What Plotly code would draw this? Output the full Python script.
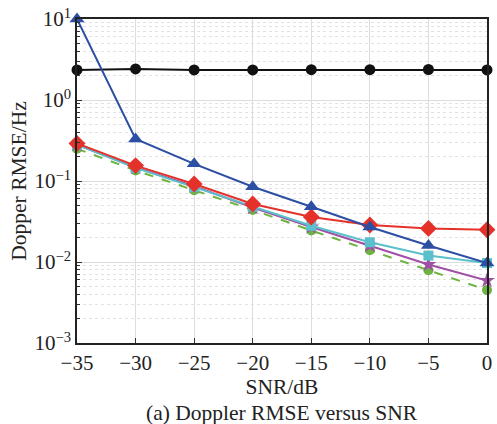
import plotly.graph_objects as go

snr = [-35, -30, -25, -20, -15, -10, -5, 0]
black_vals = [2.35, 2.42, 2.35, 2.35, 2.37, 2.37, 2.38, 2.35]
blue_vals = [10.0, 0.33, 0.163, 0.085, 0.048, 0.027, 0.016, 0.0097]
red_vals = [0.29, 0.155, 0.092, 0.052, 0.036, 0.0286, 0.026, 0.025]
cyan_vals = [0.28, 0.145, 0.084, 0.048, 0.028, 0.0175, 0.012, 0.0097]
purple_vals = [0.28, 0.147, 0.086, 0.047, 0.027, 0.016, 0.0093, 0.0059]
green_vals = [0.25, 0.135, 0.077, 0.044, 0.0245, 0.014, 0.0079, 0.0045]

y_tickvals = [0.001, 0.01, 0.1, 1, 10]
y_ticktext = ["10<sup>−3</sup>", "10<sup>−2</sup>", "10<sup>−1</sup>", "10<sup>0</sup>", "10<sup>1</sup>"]
x_tickvals = [-35, -30, -25, -20, -15, -10, -5, 0]
x_ticktext = ["−35", "−30", "−25", "−20", "−15", "−10", "−5", "0"]

series = [
    (black_vals, "#111111", "circle", "solid", 11),
    (green_vals, "#6cb43f", "circle", "dash", 10),
    (purple_vals, "#a24fa6", "star", "solid", 12),
    (cyan_vals, "#5bc0cc", "square", "solid", 10),
    (red_vals, "#e4322b", "diamond", "solid", 13),
    (blue_vals, "#2c4ea3", "triangle-up", "solid", 13),
]

fig = go.Figure()
for vals, color, sym, dash, ms in series:
    fig.add_trace(go.Scatter(
        x=snr, y=vals, mode="lines+markers",
        line=dict(color=color, width=2, dash=dash),
        marker=dict(symbol=sym, size=ms, color=color),
        showlegend=False, cliponaxis=False,
    ))

font_family = "Liberation Serif"
fig.update_layout(
    width=497, height=424,
    margin=dict(l=77, r=5, t=17, b=81),
    paper_bgcolor="white", plot_bgcolor="white",
    font=dict(family=font_family, size=21.5, color="#222222"),
)
fig.update_xaxes(
    range=[-35, 0], tickvals=x_tickvals, ticktext=x_ticktext,
    ticks="inside", ticklen=5, tickcolor="#333333",
    showline=True, linecolor="#222222", linewidth=1.5, mirror=True,
    showgrid=True, gridcolor="#dddddd", gridwidth=1,
    zeroline=False, tickfont=dict(size=21),
    title=dict(text="SNR/dB", font=dict(size=21.5), standoff=0),
)
fig.update_yaxes(
    type="log", range=[-3, 1], tickvals=y_tickvals, ticktext=y_ticktext,
    ticks="inside", ticklen=5, tickcolor="#333333",
    showline=True, linecolor="#222222", linewidth=1.5, mirror=True,
    showgrid=True, gridcolor="#dddddd", gridwidth=1,
    minor=dict(ticks="inside", ticklen=3, tickcolor="#333333",
               showgrid=True, gridcolor="#e2e2e2", griddash="dot",
               tickvals=[m * 10 ** e for e in range(-3, 1) for m in range(2, 10)]),
    zeroline=False, tickfont=dict(size=21),
    title=dict(text="Dopper RMSE/Hz", font=dict(size=21.5), standoff=2),
)
fig.add_annotation(
    text="(a) Doppler RMSE versus SNR", xref="paper", yref="paper",
    x=0.5, y=-0.172, xanchor="center", yanchor="top", showarrow=False,
    font=dict(size=21.5, family=font_family),
)
fig.write_html("out.html")
